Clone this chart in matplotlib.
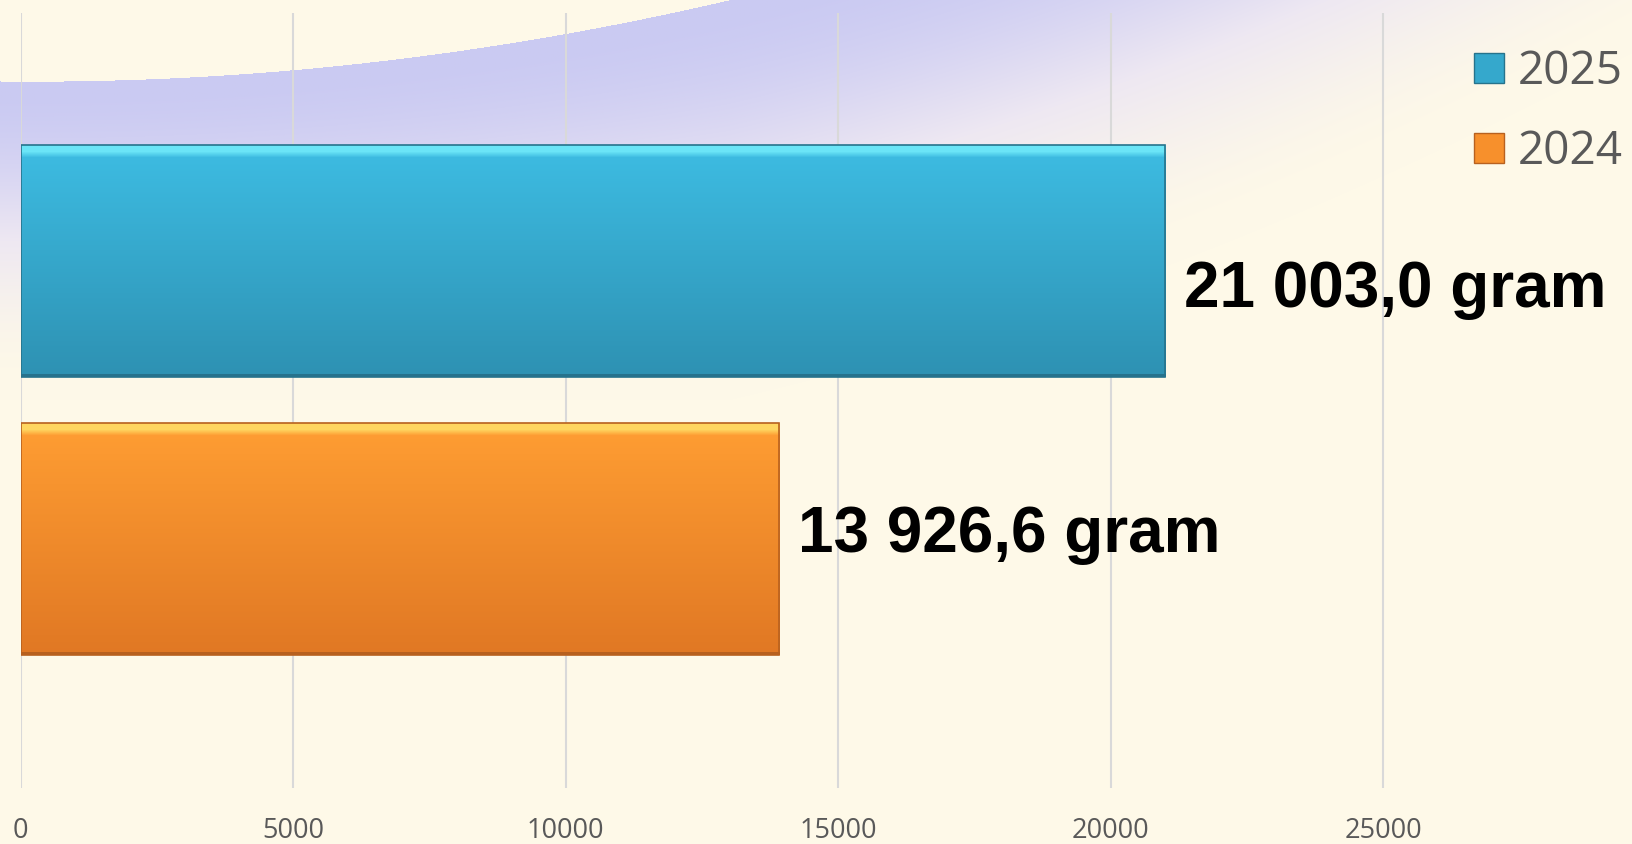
import numpy as np
import matplotlib
matplotlib.use("Agg")
import matplotlib.pyplot as plt
import matplotlib.patches as mpatches

# data
years = ["2024", "2025"]
values = [13926.6, 21003.0]
value_labels = ["13 926,6 gram", "21 003,0 gram"]
xticks = [0, 5000, 10000, 15000, 20000, 25000]

W, H = 1632, 844
fig = plt.figure(figsize=(W / 100, H / 100), dpi=100)

# background: cream with a lavender swoosh at the top
bg_ax = fig.add_axes([0, 0, 1, 1], zorder=-5)
bg_ax.set_axis_off()
xx, yy = np.meshgrid(np.arange(W), np.arange(H))
yc = 81 + 0.01054 * xx - 1.673e-4 * xx ** 2
cream = np.array([254, 249, 232]) / 255
lav = np.array([202, 202, 242]) / 255
mid = np.array([238, 232, 242]) / 255
t = np.clip((yy - yc) / (400 - np.clip(yc, 0, None)), 0, 1)
t = t * t * (3 - 2 * t)
t[yy < yc] = 1
# lavender -> pale lilac -> cream
a = np.clip(t * 2, 0, 1)[..., None]
b = np.clip(t * 2 - 1, 0, 1)[..., None]
img = np.where(t[..., None] < 0.5,
               lav * (1 - a) + mid * a,
               mid * (1 - b) + cream * b)
bg_ax.imshow(img, extent=(0, W, H, 0), aspect="auto", interpolation="bilinear")
bg_ax.set_xlim(0, W)
bg_ax.set_ylim(H, 0)

ax = fig.add_axes([20.5 / W, 1 - 788 / H, 1 - 20.5 / W, (788 - 12.5) / H])
ax.patch.set_alpha(0)

ypos = [0, 1]
height = 0.8345
colors = {
    "2025": dict(hi=(0.42, 0.90, 0.97), top=(0.24, 0.74, 0.89), bot=(0.18, 0.57, 0.70),
                 edge=(0.15, 0.45, 0.55), mid="#35a8cc"),
    "2024": dict(hi=(1.0, 0.84, 0.38), top=(1.0, 0.62, 0.20), bot=(0.88, 0.47, 0.14),
                 edge=(0.72, 0.38, 0.12), mid="#f7902c"),
}

bars = ax.barh(ypos, values, height=height, color="none", zorder=3)
ax.set_xlim(0, (W - 20.5) / 272.5 * 5000)
ax.set_ylim(-0.896, 1.894)

for bar, yr in zip(bars, years):
    c = colors[yr]
    n = 232
    g = np.linspace(0, 1, n)[:, None]
    grad = np.array(c["top"])[None, :] * (1 - g) + np.array(c["bot"])[None, :] * g
    hi_rows = 6
    for i in range(hi_rows + 6):
        w = max(0.0, 1 - (i - hi_rows) / 6) if i >= hi_rows else 1.0
        grad[i] = np.array(c["hi"]) * w + grad[i] * (1 - w)
    grad[-3:] = np.array(c["edge"])
    ncol = 400
    arr = np.repeat(grad[:, None, :], ncol, axis=1)
    x0, y0 = bar.get_x(), bar.get_y()
    bw, bh = bar.get_width(), bar.get_height()
    im = ax.imshow(arr, extent=(x0, x0 + bw, y0, y0 + bh), aspect="auto",
                   origin="upper", zorder=3, interpolation="bilinear")
    im.set_clip_path(bar)
    ax.add_patch(mpatches.Rectangle((x0, y0), bw, bh, fill=False,
                                    edgecolor=c["edge"], linewidth=1.2, zorder=4))

ax.set_xlim(0, (W - 20.5) / 272.5 * 5000)
ax.set_ylim(-0.896, 1.894)

# value labels
offsets = {"2025": -46, "2024": -13}
for y, v, lab, yr in zip(ypos, values, value_labels, years):
    ax.annotate(lab, (v, y), xytext=(19, offsets[yr]), textcoords="offset pixels",
                ha="left", va="baseline", fontsize=46, fontweight="bold",
                family="Liberation Sans", color="black", zorder=6)

ax.set_xticks(xticks)
ax.set_xticklabels([str(x) for x in xticks], fontsize=19.5, color="#595959",
                   family="Open Sans")
ax.set_yticks([])
ax.tick_params(axis="x", length=0, pad=21)
ax.grid(axis="x", color="#d9d9d9", linewidth=1.5, zorder=0)
ax.set_axisbelow(True)
for s in ax.spines.values():
    s.set_visible(False)

handles = [mpatches.Patch(facecolor=colors["2025"]["mid"], edgecolor=colors["2025"]["edge"], label="2025"),
           mpatches.Patch(facecolor=colors["2024"]["mid"], edgecolor=colors["2024"]["edge"], label="2024")]
fig.legend(handles=handles, loc="upper left", bbox_to_anchor=(1474 / W, 1 - 49 / H),
           frameon=False, prop={"family": "Open Sans", "size": 33},
           labelcolor="#595959", handlelength=0.65, handleheight=0.65,
           handletextpad=0.3, labelspacing=0.74, borderpad=0, borderaxespad=0)

plt.savefig("out.png", dpi=100)
